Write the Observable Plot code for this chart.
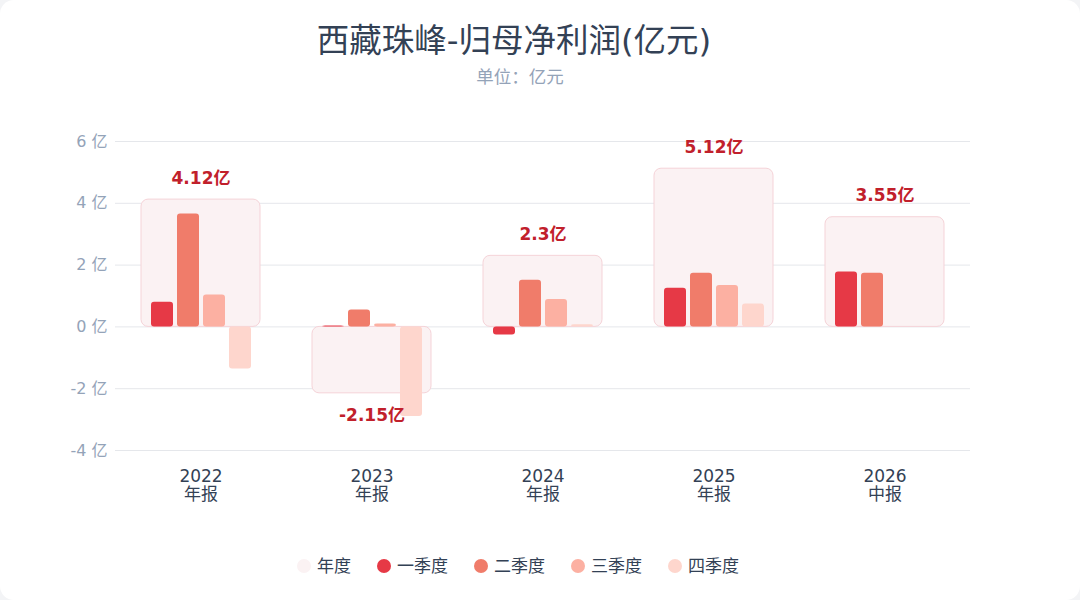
<!DOCTYPE html>
<html>
<head>
<meta charset="utf-8">
<script src="https://cdn.jsdelivr.net/npm/d3@7"></script>
<script src="https://cdn.jsdelivr.net/npm/@observablehq/plot@0.6"></script>
<style>
  html, body { margin: 0; padding: 0; background: #f3f4f6; }
  body { width: 1080px; height: 600px; overflow: hidden; font-family: "DejaVu Sans", "Noto Sans CJK SC", sans-serif; }
  #card { position: relative; width: 1080px; height: 600px; background: #fff; border-radius: 14px; overflow: hidden; }
  #title { position: absolute; top: 18px; left: 0; width: 1028px; text-align: center; font-size: 32.5px; font-weight: normal; color: #334155; line-height: 46px; }
  #subtitle { position: absolute; top: 64px; left: 0; width: 1040px; text-align: center; font-size: 17.5px; color: #94a3b8; line-height: 24px; font-family: "Noto Sans CJK SC", sans-serif; }
  #chart { position: absolute; top: 100px; left: 0; }
  #legend { position: absolute; top: 552px; left: 0; width: 1036px; display: flex; justify-content: center; gap: 26px; font-size: 17px; color: #334155; }
  .item { display: flex; align-items: center; gap: 6px; line-height: 28px; }
  .dot { width: 14px; height: 14px; border-radius: 50%; display: inline-block; }
</style>
</head>
<body>
<div id="card">
  <div id="title">西藏珠峰-归母净利润(亿元)</div>
  <div id="subtitle">单位：亿元</div>
  <div id="chart"></div>
  <div id="legend"></div>
</div>
<script>
const years = ["2022", "2023", "2024", "2025", "2026"];
const periodLabels = ["年报", "年报", "年报", "年报", "中报"];
const annual = [4.12, -2.15, 2.3, 5.12, 3.55];
const quarters = ["一季度", "二季度", "三季度", "四季度"];
const q1 = [0.80, 0.03, -0.26, 1.25, 1.78];
const q2 = [3.65, 0.55, 1.51, 1.74, 1.74];
const q3 = [1.03, 0.09, 0.89, 1.34, null];
const q4 = [-1.36, -2.90, 0.07, 0.74, null];
const yTicks = [-4, -2, 0, 2, 4, 6];
const colors = ["#e63946", "#f07c6a", "#fcb0a2", "#fed6cd"];
const annualColor = "#fbf2f3";
const labelColor = "#c1202b";

const annualData = years.map((y, i) => ({year: y, value: annual[i]}));
const qSeries = [q1, q2, q3, q4];
const quarterData = [];
years.forEach((y, i) => {
  qSeries.forEach((s, j) => {
    if (s[i] != null) quarterData.push({year: y, quarter: quarters[j], value: s[i]});
  });
});

const plot = Plot.plot({
  width: 1080,
  height: 420,
  marginTop: 41,
  marginBottom: 70,
  marginLeft: 115,
  marginRight: 110,
  style: {fontFamily: "'DejaVu Sans', 'Noto Sans CJK SC', sans-serif", background: "transparent"},
  fx: {domain: years, paddingInner: 0, paddingOuter: 0},
  x: {domain: quarters, paddingInner: 0.16, paddingOuter: 1.26, axis: null},
  y: {domain: [-4, 6]},
  color: {domain: quarters, range: colors},
  marks: [
    Plot.gridY(yTicks, {stroke: "#e5e7eb", strokeOpacity: 1}),
    Plot.axisY(yTicks, {tickSize: 0, tickPadding: 8, tickFormat: d => `${d} 亿`, fill: "#94a3b8", fontSize: 16, label: null}),
    Plot.axisFx({anchor: "bottom", tickSize: 0, tickPadding: 18, fontSize: 17, fill: "#334155", lineHeight: 1.08,
      tickFormat: d => `${d}\n${periodLabels[years.indexOf(d)]}`, label: null}),
    Plot.rectY(annualData, {fx: "year", y: "value", fill: annualColor, stroke: "#f5d3d8", strokeWidth: 1, insetLeft: 26, insetRight: 26, rx: 7}),
    Plot.barY(quarterData, {fx: "year", x: "quarter", y: "value", fill: "quarter", rx: 3}),
    Plot.text(annualData, {fx: "year", y: "value", text: d => `${d.value}亿`,
      filter: d => d.value >= 0, lineAnchor: "bottom", dy: -16, fill: labelColor, fontSize: 17, fontWeight: "bold"}),
    Plot.text(annualData, {fx: "year", y: "value", text: d => `${d.value}亿`,
      filter: d => d.value < 0, lineAnchor: "top", dy: 16, fill: labelColor, fontSize: 17, fontWeight: "bold"})
  ]
});
document.getElementById("chart").appendChild(plot);

const legend = document.getElementById("legend");
const legendItems = [{name: "年度", color: annualColor}].concat(quarters.map((q, i) => ({name: q, color: colors[i]})));
legendItems.forEach(it => {
  const el = document.createElement("div");
  el.className = "item";
  el.innerHTML = `<span class="dot" style="background:${it.color}"></span><span>${it.name}</span>`;
  legend.appendChild(el);
});
</script>
</body>
</html>
